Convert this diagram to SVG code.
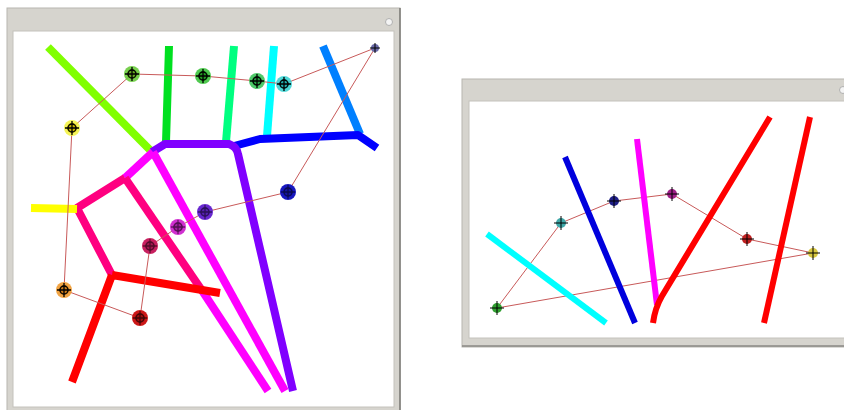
<svg xmlns="http://www.w3.org/2000/svg" xmlns:xlink="http://www.w3.org/1999/xlink" width="844" height="410" viewBox="0 0 844 410">
<style>
.frame{fill:#d6d4ce;stroke:#b8b6b0;stroke-width:1}
.client{fill:#ffffff;stroke:#c4c2bc;stroke-width:1}
.edge{fill:none;stroke-linecap:butt;stroke-linejoin:round}
.w8{stroke-width:8}
.w6{stroke-width:6}
.conn{fill:none;stroke:#c85a5a;stroke-width:1;stroke-linejoin:round}
.cross{fill:none;stroke:#000;stroke-width:1.3}
.cross2{fill:none;stroke:#000;stroke-width:1}
</style>
<defs>
<g id="xh"><circle r="4" class="cross"/><path d="M-7 0H7M0 -7V7" class="cross"/></g>
<g id="xs"><path d="M-7 0H7M0 -7V7" class="cross2"/></g>
</defs>

<g id="window-left">
<rect x="7" y="8" width="393" height="403" class="frame"/>
<line x1="400" y1="8" x2="400" y2="410" stroke="#7a7874" stroke-width="1.5"/>
<rect x="13" y="31" width="381" height="376" class="client"/>
<circle cx="389" cy="22" r="3.5" fill="#f4f4f4" stroke="#b0b0b0"/>
</g>

<g id="window-right">
<rect x="462" y="79" width="390" height="268" class="frame"/>
<line x1="462" y1="346" x2="844" y2="346" stroke="#8a8884" stroke-width="1.5"/>
<rect x="469" y="101" width="380" height="237" class="client"/>
<circle cx="843" cy="90" r="3.5" fill="#f4f4f4" stroke="#b0b0b0"/>
</g>

<g id="edges-left">
<path class="edge w8" stroke="#80ff00" d="M48 47L152 152"/>
<path class="edge w8" stroke="#00e020" d="M169 46L166 142"/>
<path class="edge w8" stroke="#00ff80" d="M234 46L226 142"/>
<path class="edge w8" stroke="#00ffff" d="M274 46L267 136"/>
<path class="edge w8" stroke="#0080ff" d="M323 46L360 134"/>
<path class="edge w8" stroke="#0000ff" d="M234 146L260 139L358 135L377 148"/>
<path class="edge w8" stroke="#8000ff" d="M152 152L165 144L229 144Q237 147 238 154L293 391"/>
<path class="edge w8" stroke="#ff00ff" d="M153 152L125 178"/>
<path class="edge w8" stroke="#ff00ff" d="M153 152L285 391"/>
<path class="edge w8" stroke="#ff0080" d="M125 178L77 208L112 275"/>
<path class="edge w8" stroke="#ff0080" d="M125 178L203 292"/>
<path class="edge w8" stroke="#ff00ff" d="M203 292L268 391"/>
<path class="edge w8" stroke="#ffff00" d="M31 208L77 209"/>
<path class="edge w8" stroke="#ff0000" d="M112 275L72 382M112 275L220 293"/>
</g>

<g id="connectors">
<path class="conn" d="M72 128L132 74L203 76L257 81L284 84L375 48L288 192L205 212L178 227L150 246L140 318L64 290Z"/>
<path class="conn" d="M497 308L561 223L614 201L672 194L747 239L813 253Z"/>
</g>

<g id="n-yellow"><circle cx="72" cy="128" r="8" fill="#f0f020" opacity="0.75"/><circle cx="72" cy="128" r="5" fill="#c8b400"/><use xlink:href="#xh" x="72" y="128"/></g>
<g id="n-chartreuse"><circle cx="132" cy="74" r="8" fill="#60c830" opacity="0.85"/><circle cx="132" cy="74" r="5" fill="#66aa22"/><use xlink:href="#xh" x="132" y="74"/></g>
<g id="n-green"><circle cx="203" cy="76" r="8" fill="#30c030" opacity="0.85"/><circle cx="203" cy="76" r="5" fill="#229922"/><use xlink:href="#xh" x="203" y="76"/></g>
<g id="n-spring"><circle cx="257" cy="81" r="8" fill="#30c050" opacity="0.85"/><circle cx="257" cy="81" r="5" fill="#22a040"/><use xlink:href="#xh" x="257" y="81"/></g>
<g id="n-cyan"><circle cx="284" cy="84" r="8" fill="#30d0d0" opacity="0.85"/><circle cx="284" cy="84" r="5" fill="#22aaaa"/><use xlink:href="#xh" x="284" y="84"/></g>
<g id="n-corner"><circle cx="375" cy="48" r="4" fill="#6a6aa8"/><path d="M370 48H380M375 43V53" class="cross2"/></g>
<g id="n-blue"><circle cx="288" cy="192" r="8" fill="#1818c0"/><circle cx="288" cy="192" r="5" fill="#1414a0"/><use xlink:href="#xh" x="288" y="192" opacity="0.5"/></g>
<g id="n-purple"><circle cx="205" cy="212" r="8" fill="#6828d0"/><circle cx="205" cy="212" r="5" fill="#5520b0"/><use xlink:href="#xh" x="205" y="212" opacity="0.5"/></g>
<g id="n-magenta"><circle cx="178" cy="227" r="8" fill="#d030d0"/><circle cx="178" cy="227" r="5" fill="#a020a0"/><use xlink:href="#xh" x="178" y="227" opacity="0.5"/></g>
<g id="n-crimson"><circle cx="150" cy="246" r="8" fill="#c82060"/><circle cx="150" cy="246" r="5" fill="#a01850"/><use xlink:href="#xh" x="150" y="246" opacity="0.5"/></g>
<g id="n-orange"><circle cx="64" cy="290" r="8" fill="#f09a30" opacity="0.9"/><circle cx="64" cy="290" r="5" fill="#c87818"/><use xlink:href="#xh" x="64" y="290"/></g>
<g id="n-red"><circle cx="140" cy="318" r="8" fill="#cc1818"/><circle cx="140" cy="318" r="5" fill="#a01010"/><use xlink:href="#xh" x="140" y="318" opacity="0.6"/></g>

<g id="edges-right">
<path class="edge w6" stroke="#0000dd" d="M565 157L635 323"/>
<path class="edge w6" stroke="#ff00ff" d="M637 139L657 305"/>
<path class="edge w6" stroke="#ff0000" d="M770 117L662 296Q655 308 653 323"/>
<path class="edge w6" stroke="#ff0000" d="M810 117L764 323"/>
<path class="edge w6" stroke="#00ffff" d="M487 234L606 323"/>
</g>

<g id="r-green"><circle cx="497" cy="308" r="5" fill="#30a030"/><use xlink:href="#xs" x="497" y="308"/></g>
<g id="r-teal"><circle cx="561" cy="223" r="5" fill="#40a8a8"/><use xlink:href="#xs" x="561" y="223"/></g>
<g id="r-blue"><circle cx="614" cy="201" r="5" fill="#202088"/><use xlink:href="#xs" x="614" y="201"/></g>
<g id="r-purple"><circle cx="672" cy="194" r="5" fill="#a02088"/><use xlink:href="#xs" x="672" y="194"/></g>
<g id="r-red"><circle cx="747" cy="239" r="5" fill="#c02020"/><use xlink:href="#xs" x="747" y="239"/></g>
<g id="r-yellow"><circle cx="813" cy="253" r="5" fill="#d8c840"/><use xlink:href="#xs" x="813" y="253"/></g>
</svg>
